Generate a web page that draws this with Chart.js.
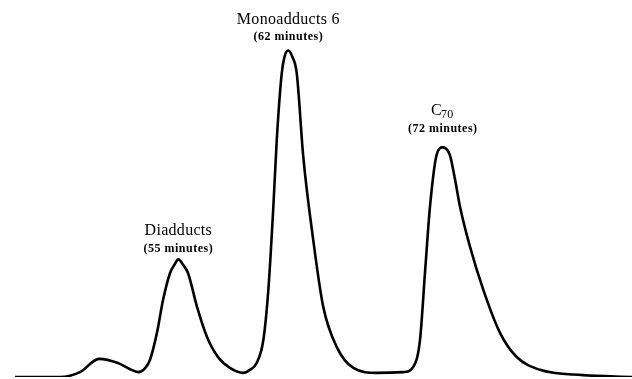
<!DOCTYPE html>
<html>
<head>
<meta charset="utf-8">
<script src="https://cdn.jsdelivr.net/npm/chart.js@4/dist/chart.umd.min.js"></script>
<style>
  html, body { margin: 0; padding: 0; background: #fff; }
  #wrap { width: 632px; height: 379px; position: relative; }
</style>
</head>
<body>
<div id="wrap"><canvas id="chromatogram"></canvas></div>
<script>
// Retention time (minutes) and detector signal (arbitrary units)
const retentionTimes = [44.48, 47.37, 48.65, 49.87, 51.08, 51.8, 52.4, 52.85, 53.13, 53.58, 53.97, 54.42, 54.69, 54.95, 55.27, 55.57, 56.15, 56.79, 57.49, 58.26, 59.1, 59.54, 59.97, 60.4, 60.72, 61.04, 61.26, 61.58, 61.76, 62.0, 62.25, 62.54, 62.96, 63.6, 64.24, 65.1, 66.17, 67.67, 69.37, 70.01, 70.44, 70.76, 71.08, 71.5, 71.9, 72.36, 72.69, 73.01, 73.65, 74.5, 75.57, 76.64, 78.13, 80.89, 84.03];
const signal = [0, 0, 1.3, 4.8, 3.7, 2.2, 1.3, 2.5, 4.5, 11.7, 20.4, 27.6, 29.7, 31.2, 29.7, 27.6, 18.6, 10.6, 5.3, 2.4, 1.1, 1.9, 3.7, 9.8, 23.1, 45.1, 62.9, 80.6, 85.0, 86.6, 85.0, 80.6, 58.4, 36.3, 18.6, 8.0, 2.4, 1.1, 1.3, 2.7, 9.8, 27.6, 45.1, 58.8, 60.9, 58.8, 52.3, 45.1, 34.5, 23.1, 11.7, 5.3, 1.9, 0.5, 0];

// Peak annotations
const peakTimes = [54.95, 62.0, 71.9];
const peakSignals = [31.2, 86.6, 60.9];
const peakNames = ['Diadducts', 'Monoadducts 6', 'C'];
const peakSubscripts = ['', '', '70'];
const peakNotes = ['(55 minutes)', '(62 minutes)', '(72 minutes)'];

// Peak label plugin
const peakLabels = {
    id: 'peakLabels',
    afterDatasetsDraw(chart) {
        const ctx = chart.ctx;
        const xs = chart.scales.x, ys = chart.scales.y;
        ctx.save();
        ctx.fillStyle = '#000';
        ctx.textBaseline = 'alphabetic';
        peakTimes.forEach((t, i) => {
            const px = xs.getPixelForValue(t);
            const py = ys.getPixelForValue(peakSignals[i]);
            const hasSub = peakSubscripts[i] !== '';
            const nameY = py - (hasSub ? 32 : (i === 0 ? 24 : 27));
            const noteY = py - (hasSub ? 15 : (i === 0 ? 7 : 11));
            // name, with subscript when there is one
            ctx.letterSpacing = '0.3px';
            ctx.font = '16px "Liberation Serif"';
            const wName = ctx.measureText(peakNames[i]).width;
            ctx.font = '12px "Liberation Serif"';
            const wSub = hasSub ? ctx.measureText(peakSubscripts[i]).width : 0;
            const start = px - (wName + wSub) / 2;
            ctx.textAlign = 'left';
            ctx.font = '16px "Liberation Serif"';
            ctx.fillText(peakNames[i], start, nameY);
            if (hasSub) {
                ctx.font = '12px "Liberation Serif"';
                ctx.fillText(peakSubscripts[i], start + wName - 1, nameY + 3);
            }
            // retention time note
            ctx.letterSpacing = '0.5px';
            ctx.font = 'bold 12px "Liberation Serif"';
            ctx.textAlign = 'center';
            ctx.fillText(peakNotes[i], px, noteY);
        });
        ctx.restore();
    }
};

const chromatogramConfig = {
    type: 'line',
    data: {
        datasets: [{
            label: 'Signal',
            data: retentionTimes.map((t, i) => ({ x: t, y: signal[i] })),
            borderColor: '#000',
            borderWidth: 2.6,
            pointRadius: 0,
            fill: false,
            cubicInterpolationMode: 'monotone'
        }]
    },
    options: {
        responsive: true,
        maintainAspectRatio: false,
        animation: false,
        layout: { padding: { left: 0, right: 0, top: 0, bottom: 2 } },
        plugins: {
            legend: { display: false },
            tooltip: { enabled: false }
        },
        scales: {
            x: { type: 'linear', min: 43.52, max: 84.03, display: false },
            y: { min: 0, max: 100, display: false }
        }
    },
    plugins: [peakLabels]
};

const chromatogramChart = new Chart(
    document.getElementById('chromatogram'),
    chromatogramConfig
);
</script>
</body>
</html>
